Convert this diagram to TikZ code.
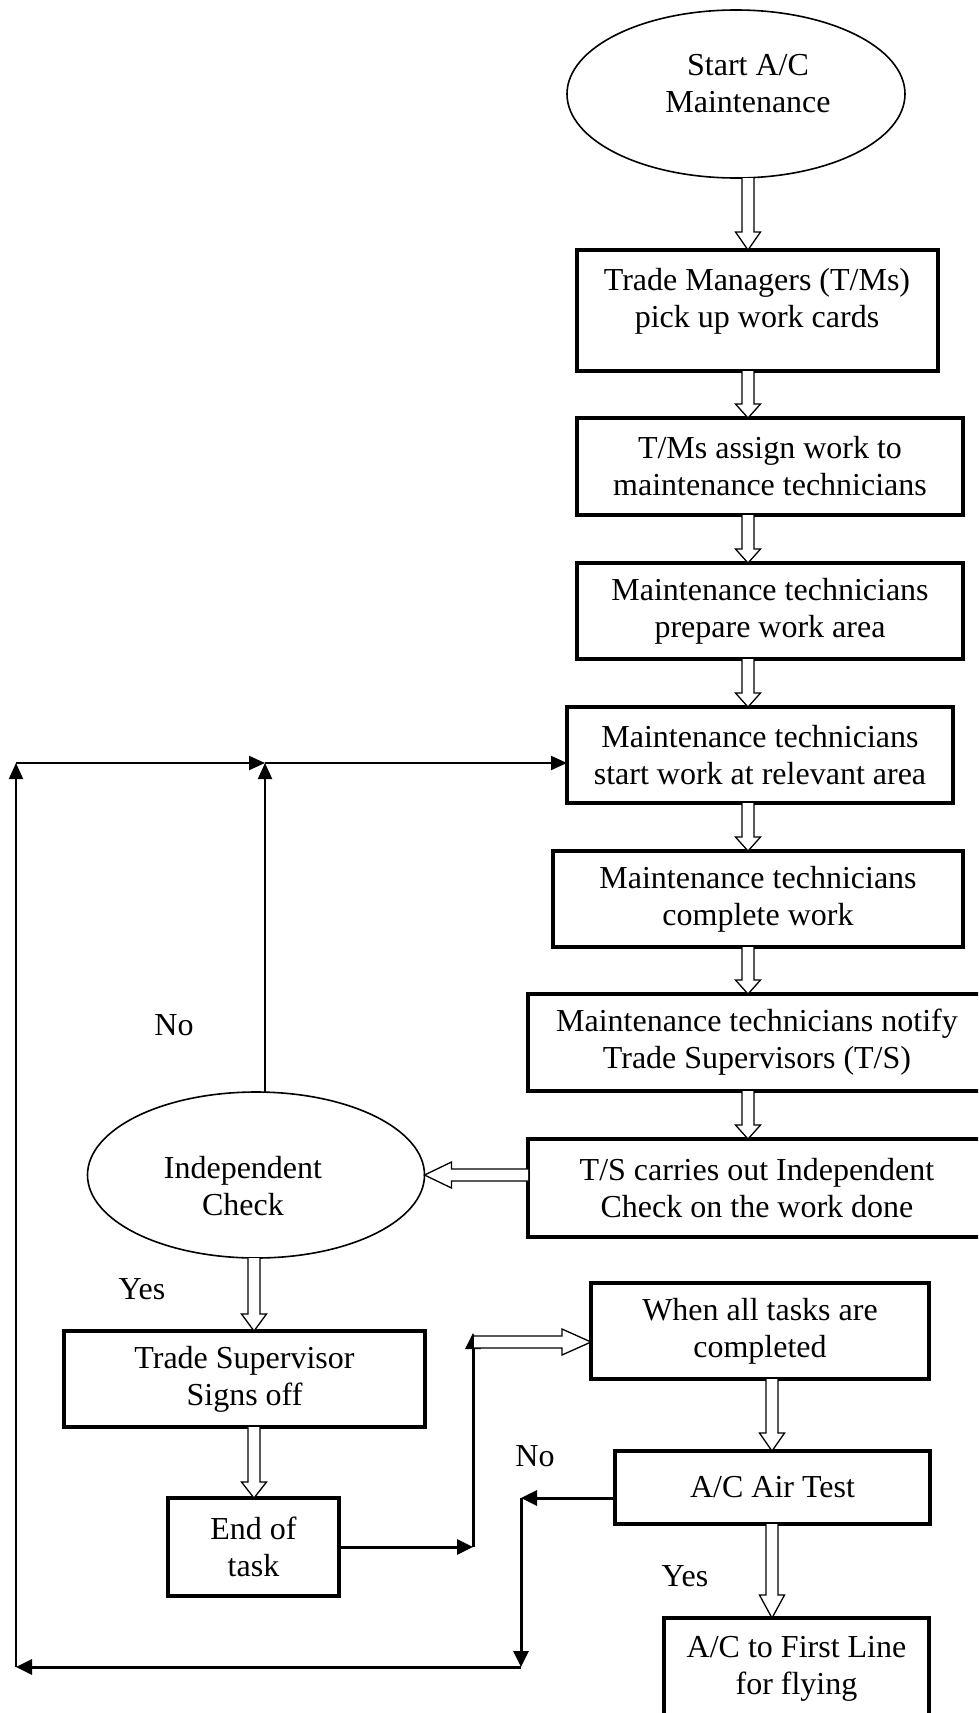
\documentclass[tikz,border=0pt]{standalone}
\usepackage{fontspec}
\setmainfont{Liberation Serif}
\usetikzlibrary{arrows.meta,shapes.geometric,calc}

\tikzset{
  every node/.style={font=\fontsize{32}{37}\selectfont, align=center, outer sep=0pt, inner sep=0pt},
  procbox/.style={draw, rectangle, line width=3.5pt, fill=white},
  oval/.style={draw, ellipse, line width=1.6pt, fill=white},
  hollow/.style={draw, fill=white, line width=1.3pt, line join=miter},
  link/.style={line width=2pt, -{Triangle[length=16pt,width=14pt]}},
  linkthick/.style={line width=3pt, -{Triangle[length=16pt,width=15pt]}},
}

% hollow block arrows: #1 start point, #2 tip point, #3 head length
\newcommand\hollowdown[3]{%
  \draw[hollow] let \p1=(#1), \p2=(#2) in
    (\x1-6pt,\y1) -- (\x1-6pt,\y2+#3) -- (\x1-12.5pt,\y2+#3) -- (\x1,\y2)
    -- (\x1+12.5pt,\y2+#3) -- (\x1+6pt,\y2+#3) -- (\x1+6pt,\y1);}
\newcommand\hollowleft[3]{%
  \draw[hollow] let \p1=(#1), \p2=(#2) in
    (\x1,\y1-6pt) -- (\x2+#3,\y1-6pt) -- (\x2+#3,\y1-13pt) -- (\x2,\y1)
    -- (\x2+#3,\y1+13pt) -- (\x2+#3,\y1+6pt) -- (\x1,\y1+6pt);}
\newcommand\hollowright[3]{%
  \draw[hollow] let \p1=(#1), \p2=(#2) in
    (\x1,\y1-6pt) -- (\x2-#3,\y1-6pt) -- (\x2-#3,\y1-13pt) -- (\x2,\y1)
    -- (\x2-#3,\y1+13pt) -- (\x2-#3,\y1+6pt) -- (\x1,\y1+6pt);}

\begin{document}
\begin{tikzpicture}[x=1pt,y=-1pt]
\useasboundingbox (0,0) rectangle (978,1713);
\clip (0,0) rectangle (978,1713);

% main column
\node[oval, minimum width=338pt, minimum height=168pt] (st) at (736,94) {};
\node (sttxt) at (748,84) {Start A/C\\Maintenance};

\node[procbox, minimum width=361pt, minimum height=121pt] (tm) at (757.5,310.5) {};
\node (tmtxt) at (757,301) {Trade Managers (T/Ms)\\pick up work cards};

\node[procbox, minimum width=386pt, minimum height=97pt] (ta) at (770,466.5)
  {T/Ms assign work to\\maintenance technicians};
\node[procbox, minimum width=386pt, minimum height=96pt] (pw) at (770,611)
  {Maintenance technicians\\prepare work area};
\node[procbox, minimum width=386pt, minimum height=96pt] (sw) at (760,755)
  {Maintenance technicians\\start work at relevant area};
\node[procbox, minimum width=410pt, minimum height=96pt] (cw) at (758,899)
  {Maintenance technicians\\complete work};
\node[procbox, minimum width=458pt, minimum height=97pt] (nt) at (757,1042.5)
  {Maintenance technicians notify\\Trade Supervisors (T/S)};
\node[procbox, minimum width=458pt, minimum height=98pt] (ts) at (757,1188)
  {T/S carries out Independent\\Check on the work done};

% check branch
\node[oval, minimum width=337pt, minimum height=166pt] (ic) at (256,1175) {};
\node (ictxt) at (243,1186) {Independent\\Check};
\node[procbox, minimum width=361pt, minimum height=96pt] (so) at (244.5,1379)
  {Trade Supervisor\\Signs off};
\node[procbox, minimum width=171pt, minimum height=98pt] (et) at (253.5,1547)
  {End of\\task};

% completion branch
\node[procbox, minimum width=338pt, minimum height=96pt] (wa) at (760,1331)
  {When all tasks are\\completed};
\node[procbox, minimum width=315pt, minimum height=73pt] (at) at (772.5,1487.5)
  {A/C Air Test};
\node[procbox, minimum width=265pt, minimum height=102pt] (fl) at (796.5,1669)
  {A/C to First Line\\for flying};

% decision labels
\node (no1) at (174,1025) {No};
\node (yes1) at (142,1289) {Yes};
\node (no2) at (535,1456) {No};
\node (yes2) at (685,1576) {Yes};

% block arrows down the main column
\coordinate (spine) at (748,0);
\hollowdown{spine |- st.south}{spine |- tm.north}{18pt}
\hollowdown{spine |- tm.south}{spine |- ta.north}{14pt}
\hollowdown{spine |- ta.south}{spine |- pw.north}{14pt}
\hollowdown{spine |- pw.south}{spine |- sw.north}{14pt}
\hollowdown{spine |- sw.south}{spine |- cw.north}{14pt}
\hollowdown{spine |- cw.south}{spine |- nt.north}{14pt}
\hollowdown{spine |- nt.south}{spine |- ts.north}{14pt}
\hollowleft{ts.west |- ic.east}{ic.east}{27pt}

% block arrows in the check branch
\coordinate (cspine) at (254,0);
\hollowdown{cspine |- ic.south}{cspine |- so.north}{17pt}
\hollowdown{cspine |- so.south}{cspine |- et.north}{16pt}

% block arrows in the completion branch
\coordinate (aspine) at (772,0);
\hollowdown{aspine |- wa.south}{aspine |- at.north}{18pt}
\hollowdown{aspine |- at.south}{aspine |- fl.north}{23pt}

% return loops
\coordinate (m1) at (265,763);
\coordinate (l1) at (16,763);
\coordinate (l0) at (16,1667);
\draw[link] (m1 |- ic.north) -- (m1);
\draw[link] (m1) -- (sw.west |- m1);
\draw[link] (l0) -- (l1);
\draw[link] (l1) -- (m1);

% end of task to completion check
\coordinate (j1) at (473,1547);
\coordinate (j2) at (473,1333);
\coordinate (h1) at (474,1342);
\draw[linkthick] (et.east) -- (j1);
\draw[linkthick] (j1) -- (j2);
\hollowright{h1}{wa.west |- h1}{29pt}

% failed air test back to the start of work
\coordinate (j3) at (521,1498);
\coordinate (j4) at (521,1667);
\draw[linkthick] (at.west |- j3) -- (j3);
\draw[linkthick] (j3) -- (j4);
\draw[linkthick] (j4) -- (l0);
\end{tikzpicture}
\end{document}
